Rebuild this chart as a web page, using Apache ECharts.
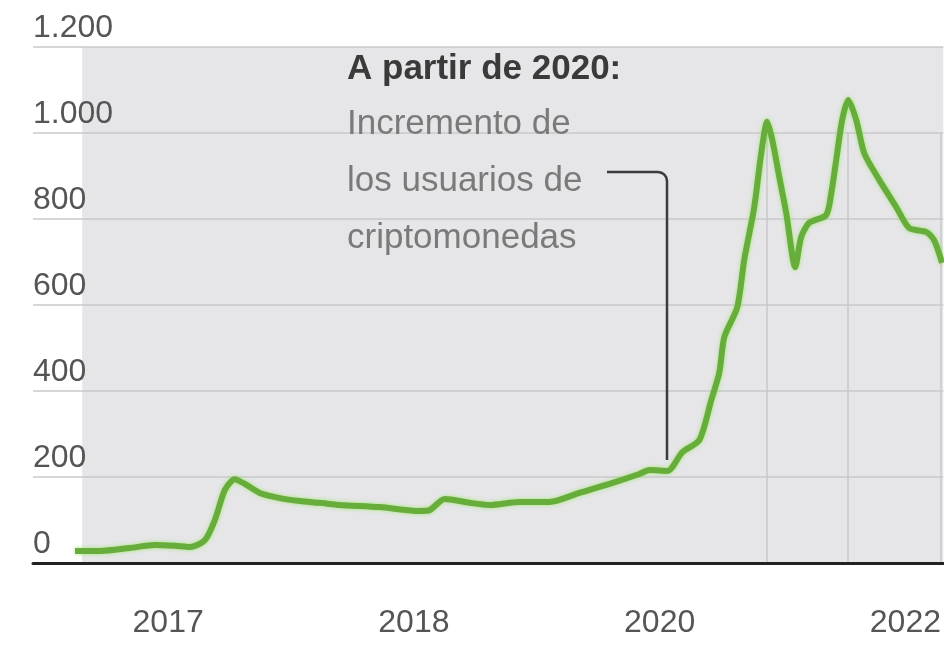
<!DOCTYPE html>
<html>
<head>
<meta charset="utf-8">
<script src="https://cdn.jsdelivr.net/npm/echarts@6/dist/echarts.min.js"></script>
<style>
html,body{margin:0;padding:0;background:#fff;}
#chart{width:944px;height:647px;}
</style>
</head>
<body>
<div id="chart"></div>
<script>
// x positions (axis units: 12 units between labelled years)
const xPositions = [-4.55,-3.33,-1.87,-0.65,0.33,1.06,1.79,2.28,2.77,3.25,3.74,4.47,5.45,6.43,7.40,8.38,10.33,12.28,12.77,13.50,14.72,15.69,17.16,18.62,20.08,21.55,23.01,23.50,24.38,25.11,25.94,26.52,26.91,27.16,27.79,28.13,28.62,28.96,29.25,29.50,29.84,30.18,30.62,30.91,31.30,32.13,32.38,32.62,32.91,33.21,33.60,33.99,34.72,35.55,36.18,37.01,37.40,37.79];
const userValues = [28,28,35,42,40,37,53,100,170,195,184,163,151,144,140,135,130,121,123,149,140,135,142,142,163,184,207,216,214,258,286,379,442,526,595,705,828,953,1026,984,898,814,688,758,791,809,860,937,1030,1077,1030,953,891,828,779,770,751,698];
const xTickPositions = [0, 12, 24, 36];
const xTickLabels = ['2017', '2018', '2020', '2022'];
const verticalGuides = [29.25, 33.2, 37.75];
const annotationTitle = 'A partir de 2020:';
const annotationLines = ['Incremento de', 'los usuarios de', 'criptomonedas'];
const annotationPoint = [24.38, 214];

const chart = echarts.init(document.getElementById('chart'), null, {renderer: 'canvas'});
const data = xPositions.map((x, i) => [x, userValues[i]]);
const FONT = '"Liberation Sans", Arial, sans-serif';

const fmtY = v => v >= 1000 ? Math.floor(v / 1000) + '.' + String(v % 1000).padStart(3, '0') : String(v);

chart.setOption({
  animation: false,
  backgroundColor: '#ffffff',
  grid: {left: 33, right: 0, top: 47, bottom: 84},
  xAxis: {
    type: 'value', min: -6.6, max: 37.85,
    axisLine: {show: true, onZero: false, lineStyle: {color: '#222', width: 3}},
    axisTick: {show: false},
    splitLine: {show: false},
    axisLabel: {
      customValues: xTickPositions,
      formatter: v => { const i = xTickPositions.indexOf(v); return i >= 0 ? xTickLabels[i] : ''; },
      fontFamily: FONT, fontSize: 32, color: '#555', margin: 44, verticalAlign: 'top'
    }
  },
  yAxis: {
    type: 'value', min: 0, max: 1200, interval: 200,
    axisLine: {show: false}, axisTick: {show: false},
    splitLine: {show: true, lineStyle: {color: '#c8c8cb', width: 1.5}},
    axisLabel: {
      formatter: v => fmtY(v),
      align: 'left', verticalAlign: 'bottom', margin: 0,
      fontFamily: FONT, fontSize: 32, color: '#555', lineHeight: 38
    }
  },
  series: [
    {
      type: 'line', data: [], z: -1, silent: true,
      markArea: {
        silent: true, z: -1,
        itemStyle: {color: '#e6e6e9'},
        data: [[{xAxis: -4.2, yAxis: 0}, {xAxis: 37.85, yAxis: 1200}]]
      }
    },
    {
      type: 'line', data: [], z: 0, silent: true,
      markLine: {
        silent: true, symbol: 'none', label: {show: false}, z: 0,
        lineStyle: {color: '#c8c8cb', width: 1.5, type: 'solid'},
        data: verticalGuides.map(x => [{coord: [x, 0]}, {coord: [x, 1000]}])
      }
    },
    {
      type: 'line', data: data, smooth: 0.25, showSymbol: false, z: 3,
      lineStyle: {color: '#67ad3b', width: 6, shadowColor: 'rgba(150,230,90,0.8)', shadowBlur: 4}
    }
  ]
});

// annotation
const end = chart.convertToPixel({gridIndex: 0}, annotationPoint);
const vx = Math.round(end[0]);
const topY = 172;
const bottomY = Math.round(end[1] - 11);
const r = 9;
const txt = (s, y, font, fill) => ({type: 'text', x: 347, y: y, style: {text: s, font: font, fill: fill, textVerticalAlign: 'middle', verticalAlign: 'middle'}});
chart.setOption({
  graphic: [
    txt(annotationTitle, 69, 'bold 35px ' + FONT, '#3a3a3a'),
    txt(annotationLines[0], 124, '35px ' + FONT, '#7a7a7a'),
    txt(annotationLines[1], 181, '35px ' + FONT, '#7a7a7a'),
    txt(annotationLines[2], 238, '35px ' + FONT, '#7a7a7a'),
    {type: 'polyline', z: 10, shape: {points: [
      [607, topY], [vx - r, topY], [vx - r * 0.62, topY + r * 0.08], [vx - r * 0.29, topY + r * 0.29],
      [vx - r * 0.08, topY + r * 0.62], [vx, topY + r], [vx, bottomY]
    ]}, style: {stroke: '#3c3c3c', lineWidth: 2.5, fill: null}}
  ]
});
</script>
</body>
</html>
